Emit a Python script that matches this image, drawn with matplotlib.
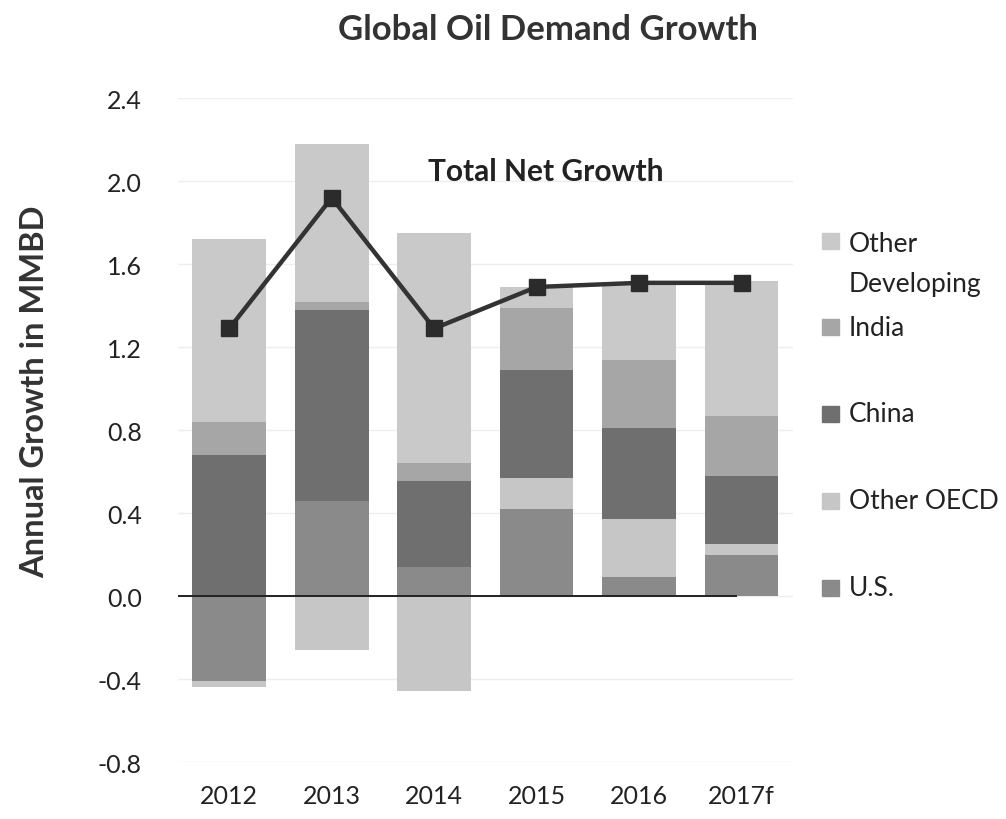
import matplotlib
matplotlib.use("Agg")
import matplotlib.pyplot as plt
from matplotlib.patches import Rectangle
import numpy as np

plt.rcParams['font.family'] = ['Lato', 'DejaVu Sans']

years = ["2012", "2013", "2014", "2015", "2016", "2017f"]
us = [-0.41, 0.46, 0.14, 0.42, 0.09, 0.20]
other_oecd = [-0.03, -0.26, -0.46, 0.15, 0.28, 0.05]
china = [0.68, 0.92, 0.415, 0.52, 0.44, 0.33]
india = [0.16, 0.04, 0.085, 0.30, 0.33, 0.29]
other_dev = [0.88, 0.76, 1.11, 0.10, 0.36, 0.65]
total = [1.29, 1.92, 1.29, 1.49, 1.51, 1.51]

series = [("U.S.", us, "#8a8a8a"),
          ("Other OECD", other_oecd, "#c6c6c6"),
          ("China", china, "#6f6f6f"),
          ("India", india, "#a6a6a6"),
          ("Other\nDeveloping", other_dev, "#c9c9c9")]

fig = plt.figure(figsize=(10.06, 8.20), dpi=100)
ax = fig.add_axes([0.177, 0.0695, 0.611, 0.8095])

x = np.arange(len(years))
pos_bottom = np.zeros(len(years))
neg_bottom = np.zeros(len(years))
for name, vals, col in series:
    v = np.array(vals)
    bottoms = np.where(v >= 0, pos_bottom, neg_bottom)
    ax.bar(x, v, bottom=bottoms, width=0.72, color=col, zorder=2)
    pos_bottom = pos_bottom + np.where(v >= 0, v, 0)
    neg_bottom = neg_bottom + np.where(v < 0, v, 0)

ax.plot(x, total, color="#333333", lw=3.2, marker="s", markersize=12,
        markerfacecolor="#2b2b2b", markeredgecolor="#2b2b2b", zorder=4)

ax.hlines(0, -0.5, 4.96, color="#222222", lw=1.4, zorder=3)

ax.set_xlim(-0.5, 5.5)
ax.set_ylim(-0.8, 2.4)
yt = np.arange(-0.8, 2.41, 0.4)
ax.set_yticks(yt)
ax.set_yticklabels([f"{t:.1f}" if abs(t) > 1e-9 else "0.0" for t in yt])
ax.set_xticks(x)
ax.set_xticklabels(years)
ax.tick_params(axis='both', length=0, labelsize=18, colors="#222222")
ax.tick_params(axis='y', pad=26)
ax.tick_params(axis='x', pad=16)
ax.grid(axis='y', color="#eeeeee", lw=1, zorder=0)
ax.set_axisbelow(True)
for s in ax.spines.values():
    s.set_visible(False)

ax.set_ylabel("Annual Growth in MMBD", fontsize=23.5, fontweight='bold',
              color="#333333")
ax.yaxis.set_label_coords(-0.21, 0.559)

fig.text(0.545, 0.963, "Global Oil Demand Growth", ha='center', va='center',
         fontsize=25, fontweight='bold', color="#333333")
ax.text(3.09, 2.05, "Total Net Growth", ha='center', va='center',
        fontsize=21.5, fontweight='bold', color="#222222")

# legend (top to bottom)
leg_items = list(reversed(series))
ys = [242, 328, 415, 502, 589]
for (name, vals, col), yp in zip(leg_items, ys):
    yf = 1 - yp / 820
    fig.add_artist(Rectangle((822 / 1006, yf - 8 / 820), 17 / 1006, 16 / 820,
                             transform=fig.transFigure, color=col))
    if "\n" in name:
        fig.text(849 / 1006, yf + 10 / 820, name, ha='left', va='top',
                 fontsize=19, color="#222222", linespacing=1.75)
    else:
        fig.text(849 / 1006, yf, name, ha='left', va='center',
                 fontsize=19, color="#222222")

fig.savefig("out.png", dpi=100)
